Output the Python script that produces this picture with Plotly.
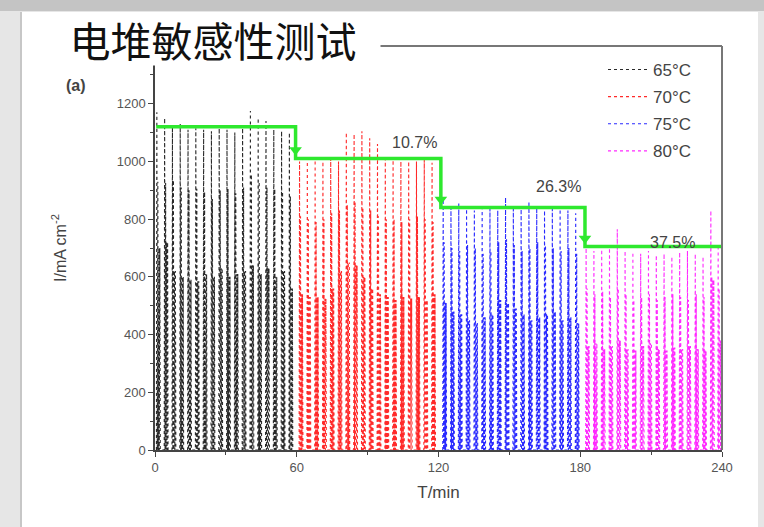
import plotly.graph_objects as go

# ---------------- data ----------------
series_names = ["65°C", "70°C", "75°C", "80°C"]
series_colors = ["#2a2a2a", "#ff2a2a", "#2a2aff", "#ff2aff"]

t65 = [0.6, 3.9, 7.2, 10.5, 13.8, 17.1, 20.4, 23.7, 27.0, 30.3, 33.6, 36.9, 40.2, 43.5, 46.8, 50.1, 53.4, 56.7]
peak65 = [1170, 1150, 1120, 1130, 1110, 1115, 1110, 1105, 1115, 1110, 1100, 1115, 1175, 1150, 1140, 1110, 1105, 1100]
mid65 = [930, 925, 935, 910, 900, 905, 895, 870, 900, 905, 890, 910, 955, 930, 910, 905, 895, 880]
low65 = [700, 720, 620, 600, 590, 585, 610, 600, 630, 600, 610, 620, 640, 610, 630, 600, 620, 560]

t70 = [61.0, 64.3, 67.6, 70.9, 74.2, 77.5, 80.8, 84.1, 87.4, 90.7, 94.0, 97.3, 100.6, 103.9, 107.2, 110.5, 113.8, 117.1]
peak70 = [1000, 1000, 1005, 1000, 1010, 1000, 1100, 1095, 1105, 1080, 1060, 1010, 1005, 1000, 1000, 1000, 1005, 995]
mid70 = [810, 800, 790, 800, 820, 830, 850, 860, 840, 830, 810, 800, 800, 790, 800, 810, 800, 790]
low70 = [540, 530, 530, 525, 560, 620, 650, 640, 600, 560, 540, 530, 520, 530, 525, 530, 520, 540]

t75 = [121.8, 125.1, 128.4, 131.7, 135.0, 138.3, 141.6, 144.9, 148.2, 151.5, 154.8, 158.1, 161.4, 164.7, 168.0, 171.3, 174.6, 177.9]
peak75 = [870, 840, 855, 835, 830, 840, 835, 830, 875, 845, 835, 860, 840, 830, 835, 845, 830, 820]
mid75 = [720, 700, 690, 710, 700, 680, 690, 720, 730, 710, 690, 700, 720, 710, 700, 690, 700, 680]
low75 = [510, 480, 470, 450, 440, 460, 470, 520, 510, 490, 470, 450, 460, 470, 480, 450, 460, 440]

t80 = [182.3, 185.6, 188.9, 192.2, 195.5, 198.8, 202.1, 205.4, 208.7, 212.0, 215.3, 218.6, 221.9, 225.2, 228.5, 231.8, 235.1, 238.2]
peak80 = [700, 690, 695, 700, 765, 690, 685, 680, 690, 675, 680, 670, 685, 690, 680, 670, 830, 700]
mid80 = [560, 540, 550, 530, 560, 540, 520, 530, 540, 520, 530, 540, 530, 520, 540, 530, 600, 560]
low80 = [360, 370, 350, 360, 380, 350, 345, 360, 370, 350, 345, 355, 350, 360, 350, 345, 590, 380]

step_t = [0.5, 59.5, 59.5, 121, 121, 182, 182, 240]
step_i = [1120, 1120, 1010, 1010, 840, 840, 705, 705]
arrow_t = [59.5, 121, 182]
arrow_i = [1040, 868, 733]
pct_labels = ["10.7%", "26.3%", "37.5%"]
pct_t = [110, 171, 219]
pct_i = [1065, 912, 718]

x_ticks = [0, 60, 120, 180, 240]
y_ticks = [0, 200, 400, 600, 800, 1000, 1200]

# ---------------- build figure ----------------
STROKE = [0.0, 0.18, 0.36, 0.6, 0.78, 1.02, 1.2, 1.44, 1.62]


def build(ts, pk, md, lo):
    xs, ys = [], []
    for t, h, m, l in zip(ts, pk, md, lo):
        levels = [0, h, 0, m, 0, l, 0, l, 0]
        for o, v in zip(STROKE, levels):
            xs.append(t + o)
            ys.append(v)
    return xs, ys


fig = go.Figure()
all_data = [(t65, peak65, mid65, low65), (t70, peak70, mid70, low70),
            (t75, peak75, mid75, low75), (t80, peak80, mid80, low80)]
for name, col, d in zip(series_names, series_colors, all_data):
    xs, ys = build(*d)
    fig.add_trace(go.Scatter(x=xs, y=ys, mode="lines", name=name, legendgroup=name,
                             line=dict(color=col, width=1.1, dash="dot"),
                             hoverinfo="skip"))

fig.add_trace(go.Scatter(x=step_t, y=step_i, mode="lines", showlegend=False,
                         line=dict(color="#2ee82e", width=3.5), hoverinfo="skip"))
fig.add_trace(go.Scatter(x=arrow_t, y=arrow_i, mode="markers", showlegend=False,
                         marker=dict(symbol="triangle-down", size=11, color="#2ee82e"),
                         hoverinfo="skip"))

for lab, tx, iy in zip(pct_labels, pct_t, pct_i):
    fig.add_annotation(x=tx, y=iy, text=lab, showarrow=False,
                       font=dict(family="Arial", size=16, color="#444"))

# pixel helpers for paper coords
L, R, T, B = 155, 722, 46, 450


def px(x):
    return (x - L) / (R - L)


def py(y):
    return (B - y) / (B - T)


# background card
fig.add_shape(type="rect", xref="paper", yref="paper", x0=px(22), x1=px(758), y0=py(12), y1=py(540),
              fillcolor="white", line=dict(width=0), layer="below")
fig.add_shape(type="rect", xref="paper", yref="paper", x0=px(-5), x1=px(770), y0=py(-5), y1=py(11),
              fillcolor="#c4c4c4", line=dict(width=0), layer="below")
fig.add_shape(type="line", xref="paper", yref="paper", x0=px(21), x1=px(21), y0=py(12), y1=py(540),
              line=dict(color="#bdbdbd", width=1.5), layer="below")
# frame top / right
fig.add_shape(type="line", xref="paper", yref="paper", x0=0, x1=1, y0=1, y1=1,
              line=dict(color="#777", width=2))
fig.add_shape(type="line", xref="paper", yref="paper", x0=1, x1=1, y0=0, y1=1,
              line=dict(color="#777", width=2))

fig.add_annotation(xref="paper", yref="paper", x=px(64), y=py(75), text="<b>(a)</b>", showarrow=False,
                   font=dict(family="Arial", size=16, color="#444"))
fig.add_annotation(xref="paper", yref="paper", x=px(45), y=py(12), xanchor="left", yanchor="top",
                   text="电堆敏感性测试", showarrow=False, width=332, height=50, bgcolor="white",
                   font=dict(family="Noto Sans CJK SC", size=41, color="#111"))

fig.update_layout(
    width=764, height=527,
    margin=dict(l=L, r=764 - R, t=T, b=527 - B),
    paper_bgcolor="#e6e6e6", plot_bgcolor="white",
    showlegend=True,
    legend=dict(x=px(603), y=py(52), xanchor="left", yanchor="top",
                bgcolor="rgba(0,0,0,0)", font=dict(family="Arial", size=17, color="#444"),
                tracegroupgap=2, itemwidth=40, traceorder="grouped"),
    font=dict(family="Arial"),
)
fig.update_xaxes(range=[0, 240], tickvals=x_ticks, ticks="outside", ticklen=5, tickwidth=1,
                 tickcolor="#444", showline=True, linecolor="#444", linewidth=1.5,
                 showgrid=False, zeroline=False,
                 tickfont=dict(size=13, color="#555"),
                 minor=dict(dtick=30, ticks="outside", ticklen=3, tickcolor="#444"),
                 title=dict(text="T/min", font=dict(size=17, color="#444"), standoff=12))
fig.update_yaxes(range=[0, 1400], tickvals=y_ticks, ticks="outside", ticklen=5, tickwidth=1,
                 tickcolor="#444", showline=True, linecolor="#444", linewidth=1.5,
                 showgrid=False, zeroline=False,
                 tickfont=dict(size=13, color="#555"),
                 minor=dict(dtick=100, ticks="outside", ticklen=3, tickcolor="#444"),
                 title=dict(text="I/mA cm<sup>-2</sup>", font=dict(size=16, color="#444"), standoff=46))

fig.write_html("out.html", config={"displayModeBar": False},
               post_script="document.body.style.margin='0';document.body.style.background='#e6e6e6';")
